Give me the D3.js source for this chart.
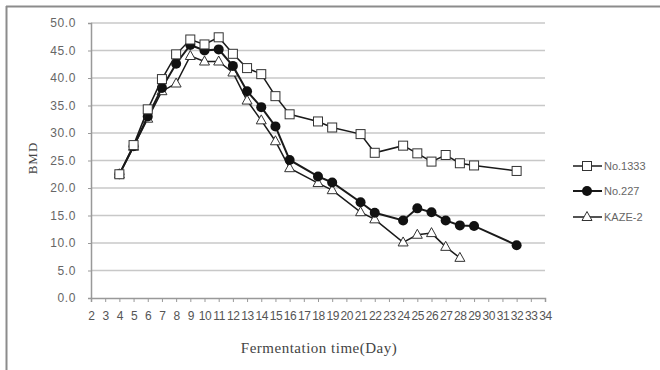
<!DOCTYPE html>
<html><head><meta charset="utf-8">
<script src="https://cdn.jsdelivr.net/npm/d3@7"></script>
<style>
html,body{margin:0;padding:0;background:#fff;}
svg{display:block;}
</style></head>
<body>
<svg id="chart" width="660" height="370"></svg>
<script>
const days = [4,5,6,7,8,9,10,11,12,13,14,15,16,18,19,21,22,24,25,26,27,28,29,32];
const no1333 = [22.5,27.8,34.3,39.8,44.3,47.0,46.1,47.4,44.4,41.8,40.7,36.7,33.4,32.1,31.0,29.8,26.4,27.7,26.3,24.8,26.0,24.5,24.1,23.1];
const no227 = [22.5,27.6,33.0,38.2,42.6,46.0,45.0,45.2,42.2,37.6,34.7,31.2,25.1,22.1,21.0,17.4,15.5,14.1,16.3,15.6,14.1,13.2,13.1,9.6];
const kaze2 = [22.5,27.5,32.6,37.6,39.0,44.0,43.0,43.0,41.0,35.9,32.3,28.5,23.6,20.9,19.6,15.6,14.3,10.1,11.5,11.8,9.3,7.3];
const xTicks = d3.range(2, 35);
const yTicks = [0,5,10,15,20,25,30,35,40,45,50];
const seriesNames = ["No.1333","No.227","KAZE-2"];
const seriesShapes = ["square","circle","triangle"];

const series = [
  {name: seriesNames[0], shape: seriesShapes[0], values: no1333},
  {name: seriesNames[1], shape: seriesShapes[1], values: no227},
  {name: seriesNames[2], shape: seriesShapes[2], values: kaze2}
].map(s => ({...s, points: s.values.map((v,i)=>({x: days[i], y: v}))}));

const svg = d3.select("#chart");
const plot = {left: 91, right: 545, top: 23, bottom: 298};
const x = d3.scaleLinear().domain([2,34]).range([plot.left, plot.right]);
const y = d3.scaleLinear().domain([0,50]).range([plot.bottom, plot.top]);

// outer frame (top and left)
svg.append("line").attr("x1",6).attr("x2",660).attr("y1",6.5).attr("y2",6.5).attr("stroke","#8c8c8c").attr("stroke-width",2);
svg.append("line").attr("x1",6.5).attr("x2",6.5).attr("y1",6).attr("y2",370).attr("stroke","#8c8c8c").attr("stroke-width",2);

// gridlines
svg.append("g").selectAll("line").data(yTicks.filter(d=>d>0)).join("line")
  .attr("x1", plot.left).attr("x2", plot.right)
  .attr("y1", d=>y(d)).attr("y2", d=>y(d))
  .attr("stroke","#c8c8c8").attr("stroke-width",1.5);

// y axis
const yAxis = d3.axisLeft(y).tickValues(yTicks).tickFormat(d3.format(".1f")).tickSize(3).tickPadding(12);
const gy = svg.append("g").attr("transform",`translate(${plot.left},0)`).call(yAxis);
gy.select(".domain").attr("stroke","#999").attr("stroke-width",1.5);
gy.selectAll(".tick line").attr("stroke","#999");
gy.selectAll("text").attr("font-family","Liberation Sans, Arial, sans-serif").attr("font-size",12).attr("letter-spacing",0.6).attr("fill","#666");

// x axis
const xAxis = d3.axisBottom(x).tickValues(xTicks).tickFormat(d=>d).tickSize(4).tickPadding(9);
const gx = svg.append("g").attr("transform",`translate(0,${plot.bottom})`).call(xAxis);
gx.select(".domain").attr("stroke","#999").attr("stroke-width",1.5);
gx.selectAll(".tick line").attr("stroke","#999");
gx.selectAll("text").attr("font-family","Liberation Sans, Arial, sans-serif").attr("font-size",12).attr("fill","#555").attr("letter-spacing",-0.4);

// axis titles
svg.append("text").attr("x",319).attr("y",353).attr("text-anchor","middle")
  .attr("font-family","Liberation Serif, Times New Roman, serif").attr("font-size",15).attr("letter-spacing",0.5).attr("fill","#444")
  .text("Fermentation time(Day)");
svg.append("text").attr("transform","translate(37,158) rotate(-90)").attr("text-anchor","middle")
  .attr("font-family","Liberation Serif, Times New Roman, serif").attr("font-size",13).attr("letter-spacing",1).attr("fill","#444")
  .text("BMD");

const line = d3.line().x(d=>x(d.x)).y(d=>y(d.y));

function drawMarker(g, shape, cx, cy) {
  if (shape === "square") {
    g.append("rect").attr("x",cx-4.5).attr("y",cy-4.5).attr("width",9).attr("height",9)
      .attr("fill","#fff").attr("stroke","#333").attr("stroke-width",1);
  } else if (shape === "circle") {
    g.append("circle").attr("cx",cx).attr("cy",cy).attr("r",5).attr("fill","#111");
  } else {
    g.append("path").attr("d",`M${cx},${cy-5.5}L${cx+5},${cy+3.5}L${cx-5},${cy+3.5}Z`)
      .attr("fill","#fff").attr("stroke","#333").attr("stroke-width",1);
  }
}

// draw in reverse order so No.1333 is on top
[...series].reverse().forEach(s => {
  const g = svg.append("g");
  g.append("path").datum(s.points).attr("d", line).attr("fill","none")
    .attr("stroke","#1a1a1a").attr("stroke-width", s.shape==="circle"?2:1.5);
  s.points.forEach(p => drawMarker(g, s.shape, x(p.x), y(p.y)));
});

// legend
const legY = [166, 191, 217];
series.forEach((s,i) => {
  const g = svg.append("g");
  g.append("line").attr("x1",573).attr("x2",602).attr("y1",legY[i]).attr("y2",legY[i])
    .attr("stroke","#1a1a1a").attr("stroke-width", s.shape==="circle"?2:1.5);
  drawMarker(g, s.shape, 587, legY[i]);
  g.append("text").attr("x",604).attr("y",legY[i]+4).attr("font-family","Liberation Sans, Arial, sans-serif")
    .attr("font-size",11).attr("fill","#666").text(s.name);
});
</script>
</body></html>
